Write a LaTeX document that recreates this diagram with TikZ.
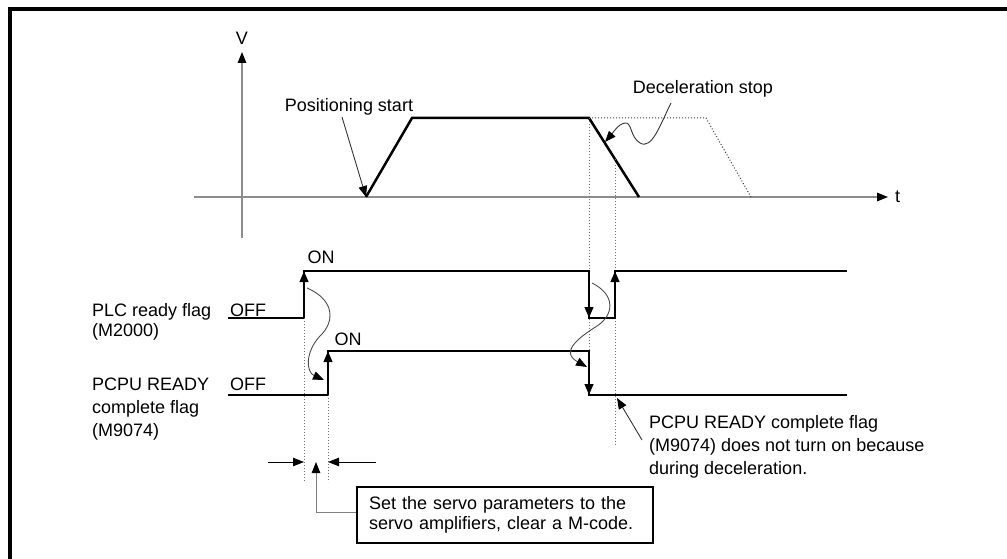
\documentclass[tikz,border=0pt]{standalone}
\usepackage{fontspec}
\setmainfont{Liberation Sans}
\usetikzlibrary{arrows.meta}
\begin{document}
\begin{tikzpicture}[x=1pt,y=-1pt,
  every node/.style={font=\fontsize{18}{22}\selectfont, inner sep=0pt},
  sig/.style={line width=2.5pt, line join=miter},
  axis/.style={line width=1.5pt, draw=black!45},
  thinl/.style={line width=0.9pt, draw=black!80},
  dots/.style={line width=1pt, draw=black!55, dash pattern=on 1pt off 2pt},
  tip/.style={-{Triangle[length=11pt,width=8.5pt,color=black]}},
  ]
\useasboundingbox (0,0) rectangle (1007,559);
% frame
\draw[line width=4pt, line join=miter] (10,559) -- (10,9) -- (1007,9);

% axes
\coordinate (vbot) at (242,238);
\coordinate (vtop) at (242,52);
\coordinate (tl) at (194,197);
\coordinate (tr) at (888,197);
\draw[axis,tip] (vbot) -- (vtop);
\draw[axis,tip] (tl) -- (tr);
\node (vlab) at (242,38) {V};
\node[anchor=west] (tlab) at (895,197) {t};

% velocity
\coordinate (V0) at (366,197);
\coordinate (V1) at (412,118);
\coordinate (V2) at (589,118);
\coordinate (V3) at (639,197);
\coordinate (D1) at (706,118);
\coordinate (D2) at (751,197);
\draw[dots, draw=black!75] (V2) -- (D1) -- (D2);
\draw[sig] (V0) -- (V1) -- (V2) -- (V3);

% labels on velocity
\node[anchor=base] (pstart) at (349,112) {Positioning start};
\coordinate (ps0) at (342,117);
\draw[thinl,tip] (ps0) -- (V0);
\node[anchor=base] (decel) at (703,94) {Deceleration stop};
\coordinate (dc0) at (671,103);
\coordinate (dc1) at (605,142);
\draw[thinl,tip] (dc0) .. controls (660,125) and (652,150) .. (640,143)
  .. controls (630,137) and (632,122) .. (625,123)
  .. controls (618,124) and (612,134) .. (dc1);

% dotted verticals
\coordinate (a1) at (589,351);
\coordinate (b0) at (615,159);
\coordinate (b1) at (615,446);
\draw[dots] (V2) -- (a1);
\draw[dots] (b0) -- (b1);

% PLC ready flag
\coordinate (P0) at (228,318);
\coordinate (P1) at (304,318);
\coordinate (P2) at (304,271);
\coordinate (P3) at (589,271);
\coordinate (P4) at (589,318);
\coordinate (P5) at (615,318);
\coordinate (P6) at (615,271);
\coordinate (P7) at (847,271);
\draw[sig] (P0) -- (P1) -- (P2) -- (P3) -- (P4) -- (P5) -- (P6) -- (P7);
\draw[sig,tip] (P1) -- (P2);
\draw[sig,tip] (P3) -- (P4);
\draw[sig,tip] (P5) -- (P6);

% PCPU READY complete flag
\coordinate (Q0) at (228,395);
\coordinate (Q1) at (328,395);
\coordinate (Q2) at (328,351);
\coordinate (Q3) at (589,351);
\coordinate (Q4) at (589,395);
\coordinate (Q5) at (847,395);
\draw[sig] (Q0) -- (Q1) -- (Q2) -- (Q3) -- (Q4) -- (Q5);
\draw[sig,tip] (Q1) -- (Q2);
\draw[sig,tip] (Q3) -- (Q4);

% signal labels
\node[anchor=base] (on1) at (321,263) {ON};
\node[anchor=base] (on2) at (348,345) {ON};
\node[anchor=base west] (off1) at (230,316) {OFF};
\node[anchor=base west] (off2) at (230,390) {OFF};
\node[anchor=base west] (plc1) at (92,316) {PLC ready flag};
\node[anchor=base west] (plc2) at (92,336) {(M2000)};
\node[anchor=base west] (pc1) at (92,390) {PCPU READY};
\node[anchor=base west] (pc2) at (92,413) {complete flag};
\node[anchor=base west] (pc3) at (92,436) {(M9074)};

% causal curved arrows
\coordinate (c1s) at (307,288);
\coordinate (c1e) at (324,380);
\draw[thinl,draw=black!70,tip] (c1s) .. controls (335,300) and (335,322) .. (320,336)
  .. controls (305,352) and (306,372) .. (c1e);
\coordinate (c2s) at (592,283);
\coordinate (c2e) at (587,367);
\draw[thinl,draw=black!70,tip] (c2s) .. controls (616,295) and (614,315) .. (597,326)
  .. controls (578,338) and (560,352) .. (c2e);

% note at lower right
\coordinate (n0) at (642,440);
\coordinate (n1) at (617,398);
\draw[thinl,tip] (n0) -- (n1);
\node[anchor=base west] (nt1) at (649,428) {PCPU READY complete flag};
\node[anchor=base west] (nt2) at (649,451) {(M9074) does not turn on because};
\node[anchor=base west] (nt3) at (649,474) {during deceleration.};

% dimension
\coordinate (e0) at (304,318);
\coordinate (e1) at (304,482);
\coordinate (f0) at (328,395);
\coordinate (f1) at (328,482);
\draw[dots] (e0) -- (e1);
\draw[dots] (f0) -- (f1);
\coordinate (g0) at (268,462);
\coordinate (g1) at (304,462);
\coordinate (h0) at (376,462);
\coordinate (h1) at (328,462);
\draw[thinl,draw=black,tip] (g0) -- (g1);
\draw[thinl,draw=black,tip] (h0) -- (h1);

% box
\node[draw, line width=2pt, minimum width=296pt, minimum height=56pt, anchor=north west,
  align=left, text width=272pt, inner xsep=12pt, font=\fontsize{18}{20}\selectfont]
  (box) at (356,486) {Set the servo parameters to the\\servo amplifiers, clear a M-code.};
\coordinate (k1) at (316,512);
\coordinate (k2) at (316,462);
\draw[thinl,draw=black!50,tip] (box.west |- k1) -- (k1) -- (k2);
\end{tikzpicture}
\end{document}
